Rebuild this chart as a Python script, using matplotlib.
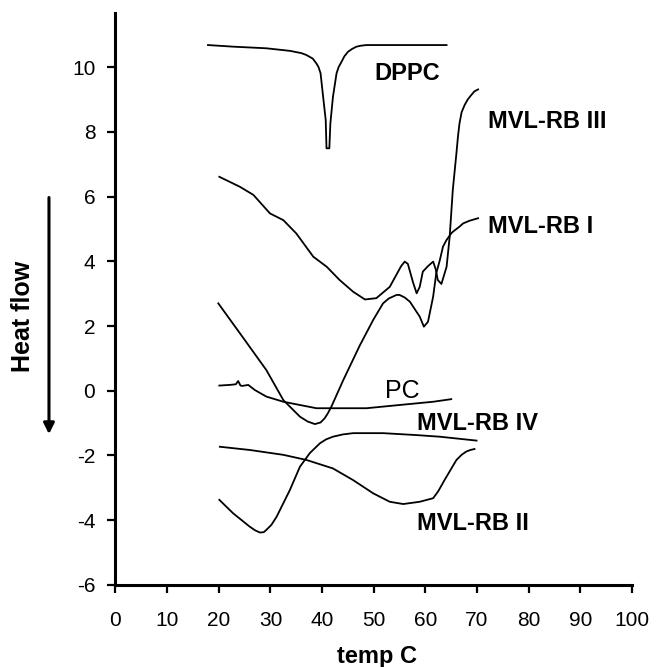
import matplotlib
matplotlib.use("Agg")
import matplotlib.pyplot as plt

plt.rcParams['font.family'] = ['Liberation Sans', 'DejaVu Sans']
plt.rcParams['axes.unicode_minus'] = False

# ---- data ----
dppc_x = [17.9, 22.8, 29.2, 33.8, 36.0, 37.0, 38.2, 38.9, 39.3, 39.7, 40.2, 40.7, 40.85, 41.4, 41.6, 42.1, 42.8, 43.2, 43.75, 44.3, 45.0, 45.8, 46.65, 47.5, 48.6, 64.1]
dppc_y = [10.68, 10.63, 10.58, 10.50, 10.43, 10.37, 10.26, 10.11, 10.0, 9.81, 9.08, 8.36, 7.49, 7.49, 8.26, 9.08, 9.81, 10.0, 10.16, 10.33, 10.47, 10.56, 10.63, 10.66, 10.68, 10.68]

rb3_x = [20.1, 24.1, 26.7, 29.9, 32.5, 35.0, 38.3, 40.9, 43.4, 46.0, 48.3, 50.5, 53.1, 55.3, 56.0, 56.6, 57.6, 58.3, 58.9, 59.5, 60.5, 61.5, 62.0, 62.4, 63.1, 64.1, 64.7, 65.3, 66.0, 66.3, 66.6, 67.0, 67.6, 68.2, 68.9, 69.5, 70.2]
rb3_y = [6.61, 6.30, 6.05, 5.48, 5.27, 4.86, 4.14, 3.83, 3.42, 3.06, 2.82, 2.86, 3.21, 3.85, 3.99, 3.92, 3.35, 3.01, 3.21, 3.68, 3.85, 3.99, 3.75, 3.42, 3.30, 3.83, 4.76, 6.20, 7.33, 7.85, 8.26, 8.60, 8.83, 9.00, 9.14, 9.25, 9.31]

rb1_x = [19.9, 24.7, 29.2, 32.5, 35.7, 37.2, 38.6, 39.7, 40.5, 41.1, 41.8, 44.1, 47.3, 49.9, 51.8, 52.9, 54.4, 55.0, 56.0, 57.0, 58.9, 59.7, 60.5, 61.5, 62.1, 62.8, 63.4, 64.1, 65.0, 65.3, 66.6, 67.3, 68.5, 70.2]
rb1_y = [2.70, 1.64, 0.64, -0.29, -0.80, -0.95, -1.03, -0.98, -0.85, -0.70, -0.49, 0.33, 1.40, 2.19, 2.70, 2.85, 2.96, 2.96, 2.88, 2.75, 2.29, 1.98, 2.13, 2.91, 3.63, 4.04, 4.45, 4.66, 4.86, 4.91, 5.07, 5.17, 5.25, 5.33]

pc_x = [20.1, 22.1, 23.3, 23.75, 24.2, 24.6, 25.7, 27.0, 29.2, 32.5, 35.7, 38.9, 43.4, 48.6, 55.0, 61.5, 65.0]
pc_y = [0.16, 0.18, 0.20, 0.30, 0.16, 0.15, 0.18, 0.02, -0.18, -0.34, -0.44, -0.54, -0.54, -0.54, -0.44, -0.34, -0.26]

rb4_x = [20.1, 22.8, 26.0, 27.0, 27.95, 28.7, 29.2, 30.2, 31.2, 33.75, 35.7, 37.6, 39.6, 40.8, 42.1, 44.0, 46.0, 51.8, 58.3, 62.8, 69.9]
rb4_y = [-3.37, -3.79, -4.20, -4.31, -4.38, -4.37, -4.30, -4.14, -3.89, -3.07, -2.35, -1.93, -1.62, -1.50, -1.42, -1.35, -1.31, -1.31, -1.37, -1.42, -1.54]

rb2_x = [20.2, 26.0, 32.5, 37.0, 42.1, 46.0, 49.9, 53.1, 55.7, 58.9, 61.5, 62.5, 63.7, 66.0, 67.0, 67.9, 68.7, 69.5]
rb2_y = [-1.73, -1.83, -1.98, -2.14, -2.40, -2.76, -3.17, -3.43, -3.50, -3.43, -3.32, -3.10, -2.76, -2.14, -1.98, -1.88, -1.83, -1.80]

x_ticks = list(range(0, 101, 10))
y_ticks = list(range(-6, 11, 2))

# ---- figure ----
fig = plt.figure(figsize=(6.6, 6.67), dpi=100)
ax = fig.add_axes([0.175, 0.123, 0.7826, 0.8575])

for xs, ys in [(dppc_x, dppc_y), (rb3_x, rb3_y), (rb1_x, rb1_y),
               (pc_x, pc_y), (rb4_x, rb4_y), (rb2_x, rb2_y)]:
    ax.plot(xs, ys, color='black', lw=1.3, solid_joinstyle='round')

ax.set_xlim(0, 100)
ax.set_ylim(-6, 11.67)
ax.set_xticks(x_ticks)
ax.set_yticks(y_ticks)
for s in ['top', 'right']:
    ax.spines[s].set_visible(False)
for s in ['left', 'bottom']:
    ax.spines[s].set_linewidth(2.2)
ax.tick_params(axis='both', direction='out', length=5.5, width=1.6, labelsize=15)
ax.tick_params(axis='x', pad=13)
ax.tick_params(axis='y', pad=9)

lab = dict(fontsize=17, fontweight='bold', ha='left', va='baseline')
ax.text(50.2, 9.60, 'DPPC', **lab)
ax.text(72.05, 8.12, 'MVL-RB III', **lab)
ax.text(72.05, 4.87, 'MVL-RB I', **lab)
ax.text(52.1, -0.22, 'PC', fontsize=18, ha='left', va='baseline')
ax.text(58.3, -1.21, 'MVL-RB IV', **lab)
ax.text(58.3, -4.30, 'MVL-RB II', **lab)

fig.text(0.571, 0.006, 'temp C', fontsize=17, fontweight='bold', ha='center', va='baseline')
fig.text(0.035, 0.526, 'Heat flow', fontsize=18, fontweight='bold', rotation=90, ha='center', va='center')
ax.annotate('', xy=(0.0742, 0.345), xytext=(0.0742, 0.708), xycoords='figure fraction',
            textcoords='figure fraction',
            arrowprops=dict(arrowstyle='-|>', lw=2.2, color='black', mutation_scale=16))

fig.savefig('out.png', dpi=100)
